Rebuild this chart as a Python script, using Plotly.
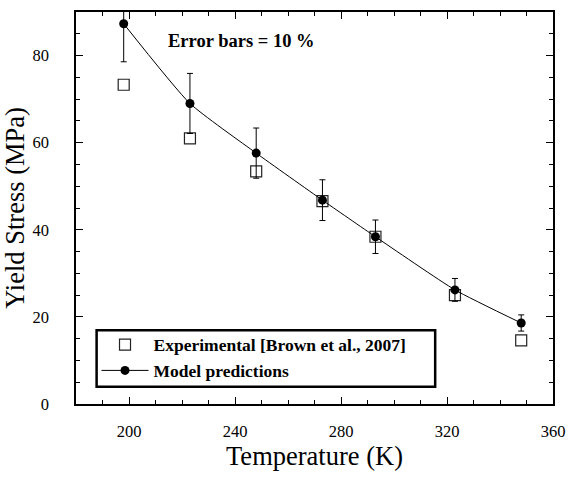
import plotly.graph_objects as go

# Temperature (K) and yield stress (MPa)
temp_exp = [198, 223, 248, 273, 293, 323, 348]
stress_exp = [73.3, 61.0, 53.4, 46.6, 38.4, 25.0, 14.6]

temp_model = [198, 223, 248, 273, 293, 323, 348]
stress_model = [87.3, 69.0, 57.6, 46.8, 38.4, 26.2, 18.6]
err_pct = 10  # symmetric error bars, percent of model value

x_ticks = [200, 240, 280, 320, 360]
y_ticks = [0, 20, 40, 60, 80]

FONT = "Liberation Serif"

fig = go.Figure()

fig.add_trace(go.Scatter(
    x=temp_exp, y=stress_exp, mode="markers",
    name="Experimental [Brown et al., 2007]",
    marker=dict(symbol="square-open", size=11, color="#222",
                line=dict(width=1.2, color="#222")),
))

fig.add_trace(go.Scatter(
    x=temp_model, y=stress_model, mode="lines+markers",
    name="Model predictions",
    line=dict(color="black", width=1, shape="spline", smoothing=0.5),
    marker=dict(symbol="circle", size=9, color="black"),
    error_y=dict(type="percent", value=err_pct, color="black",
                 thickness=1, width=3),
))

axis_common = dict(
    showline=True, linecolor="black", linewidth=1.5, mirror="ticks",
    ticks="inside", ticklen=7, tickwidth=1, tickcolor="black",
    showgrid=False, zeroline=False,
    tickfont=dict(family=FONT, size=16.5, color="black"),
)

fig.update_xaxes(
    range=[180, 360], tickvals=x_ticks,
    minor=dict(ticks="inside", ticklen=4, tickwidth=1, tickcolor="black",
               dtick=10, tick0=180, showgrid=False),
    ticklabelstandoff=11,
    title=dict(text="Temperature (K)",
               font=dict(family=FONT, size=26.5, color="black"), standoff=2),
    **axis_common,
)
fig.update_yaxes(
    range=[0, 90], tickvals=y_ticks,
    minor=dict(ticks="inside", ticklen=4, tickwidth=1, tickcolor="black",
               dtick=5, tick0=0, showgrid=False),
    ticklabelstandoff=22,
    title=dict(text="Yield Stress (MPa)",
               font=dict(family=FONT, size=26.5, color="black"), standoff=0),
    **axis_common,
)

fig.add_annotation(
    x=242.4, y=83.3, xref="x", yref="y", text="<b>Error bars = 10 %</b>",
    showarrow=False, font=dict(family=FONT, size=18.5, color="black"),
)

# framed white panel behind the legend entries
fig.add_shape(
    type="rect", xref="paper", yref="paper",
    x0=0.0432, x1=0.753, y0=0.044, y1=0.188,
    fillcolor="white", line=dict(color="black", width=2.5), layer="above",
)

fig.update_layout(
    width=575, height=477,
    margin=dict(l=76, r=20, t=10, b=73),
    plot_bgcolor="white", paper_bgcolor="white",
    showlegend=True,
    legend=dict(
        x=0.043, y=0.197, xanchor="left", yanchor="top",
        bgcolor="rgba(0,0,0,0)", borderwidth=0,
        font=dict(family=FONT, size=17.5, color="black", weight="bold"),
        itemwidth=47, tracegroupgap=0,
    ),
)

fig.write_html("out.html")
